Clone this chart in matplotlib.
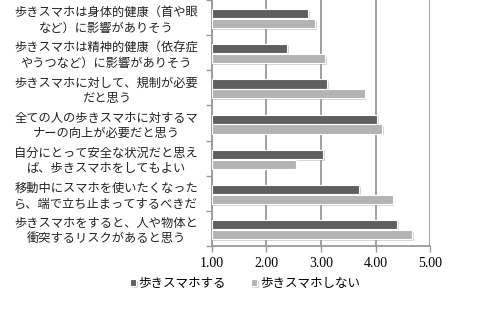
import matplotlib
matplotlib.use("Agg")
import matplotlib.pyplot as plt
import matplotlib.patheffects as pe
import numpy as np

plt.rcParams['font.family'] = ['Noto Sans CJK JP', 'DejaVu Sans']

labels = [
    "歩きスマホは身体的健康（首や眼\nなど）に影響がありそう",
    "歩きスマホは精神的健康（依存症\nやうつなど）に影響がありそう",
    "歩きスマホに対して、規制が必要\nだと思う",
    "全ての人の歩きスマホに対するマ\nナーの向上が必要だと思う",
    "自分にとって安全な状況だと思え\nば、歩きスマホをしてもよい",
    "移動中にスマホを使いたくなった\nら、端で立ち止まってするべきだ",
    "歩きスマホをすると、人や物体と\n衝突するリスクがあると思う",
]
walk_yes = [2.77, 2.38, 3.11, 4.03, 3.04, 3.70, 4.39]
walk_no = [2.90, 3.08, 3.80, 4.12, 2.54, 4.31, 4.67]
series_names = ["歩きスマホする", "歩きスマホしない"]
xticks = [1.0, 2.0, 3.0, 4.0, 5.0]

fig = plt.figure(figsize=(4.85, 3.15), dpi=100)
ax = fig.add_axes([0.4365, 0.219, 0.4505, 0.781])

y = np.arange(len(labels))
h = 0.26
shadow = [pe.SimplePatchShadow(offset=(1.2, -1.2), shadow_rgbFace='#888888', alpha=0.35), pe.Normal()]
b1 = ax.barh(y - h / 2 + 0.02, [v - 1 for v in walk_yes], height=h, left=1, color='#5f5f5f',
             edgecolor='white', linewidth=0.8, label=series_names[0], zorder=3)
b2 = ax.barh(y + h / 2 + 0.04, [v - 1 for v in walk_no], height=h, left=1, color='#b3b3b3',
             edgecolor='white', linewidth=0.8, label=series_names[1], zorder=3)
for b in list(b1) + list(b2):
    b.set_path_effects(shadow)

ax.set_xlim(1, 5)
ax.set_ylim(len(labels) - 0.5, -0.5)
ax.set_xticks(xticks)
ax.set_xticklabels([f"{t:.2f}" for t in xticks], family=['Liberation Serif'], fontsize=10)
ax.set_yticks(y)
ax.set_yticklabels(labels, fontsize=8.8, ha='center', multialignment='center',
                   color='#222222', linespacing=1.25)
ax.tick_params(axis='y', which='major', length=0, pad=76)
ax.set_yticks(np.arange(-0.5, len(labels), 1), minor=True)
ax.tick_params(axis='y', which='minor', length=4, color='#999999', width=1)
ax.tick_params(axis='x', length=4, color='#999999', width=1, pad=4)

ax.grid(axis='x', color='#999999', linewidth=1.3, zorder=0)
ax.set_axisbelow(True)
for s in ['top', 'right']:
    ax.spines[s].set_visible(False)
for s in ['left', 'bottom']:
    ax.spines[s].set_color('#999999')
    ax.spines[s].set_linewidth(1.3)

fig.legend(handles=[b1, b2], labels=series_names, loc='center', bbox_to_anchor=(0.505, 0.1),
           ncol=2, frameon=False, fontsize=9, handlelength=0.5, handleheight=0.5,
           handletextpad=0.2, columnspacing=2.0)

fig.savefig("out.png", dpi=100)
